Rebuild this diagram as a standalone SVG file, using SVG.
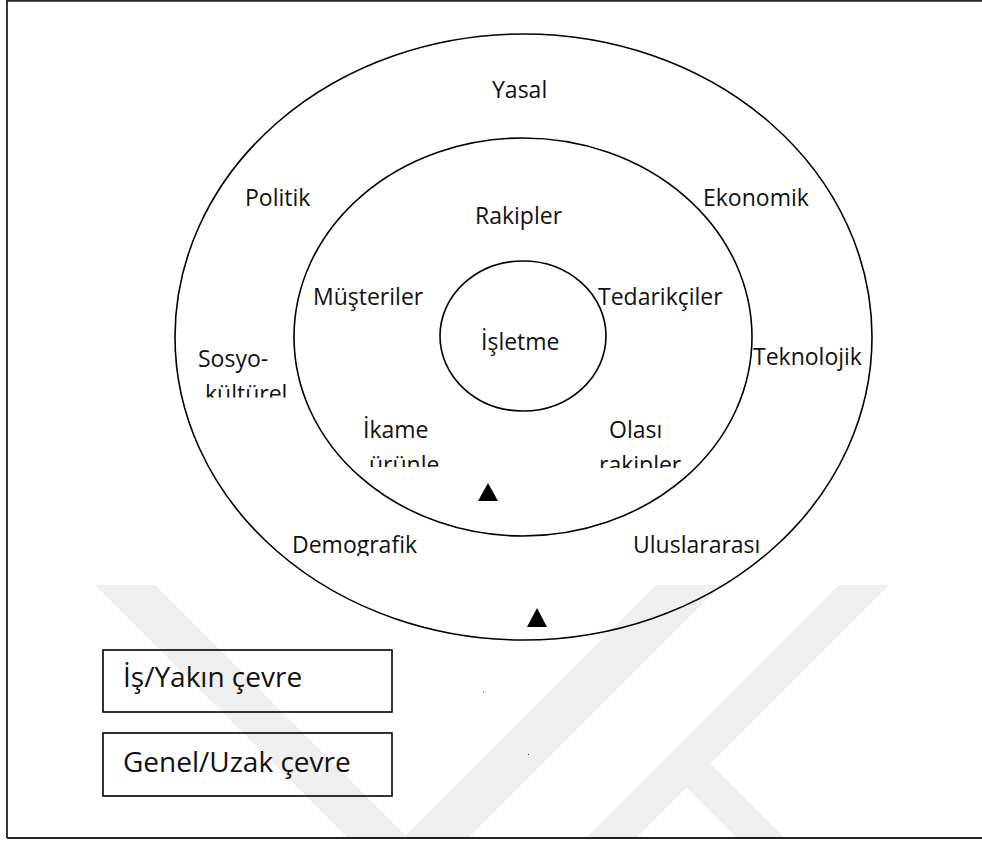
<svg xmlns="http://www.w3.org/2000/svg" width="982" height="841" viewBox="0 0 982 841">
  <style>
    .lbl { font-family: "Open Sans", "Noto Sans", "DejaVu Sans", sans-serif; font-size: 23px; fill: #111; }
    .leg { font-family: "Open Sans", "Noto Sans", "DejaVu Sans", sans-serif; font-size: 28px; fill: #111; }
    .ring { fill: none; stroke: #000; stroke-width: 1.6; }
    .box { fill: none; stroke: #000; stroke-width: 1.6; }
    .frame { fill: none; stroke: #222; stroke-width: 1.8; }
    .wm { fill: #efefef; }
    .tri { fill: #000; }
  </style>
  <defs>
    <clipPath id="clipKultur"><rect x="150" y="370" width="200" height="27.5"/></clipPath>
    <clipPath id="clipUrun"><rect x="340" y="440" width="150" height="27"/></clipPath>
    <clipPath id="clipRakip"><rect x="580" y="440" width="150" height="28"/></clipPath>
    <clipPath id="clipDemo"><rect x="260" y="520" width="200" height="36"/></clipPath>
    <clipPath id="clipFrame"><rect x="8" y="1" width="974" height="836"/></clipPath>
  </defs>
  <rect x="0" y="0" width="982" height="841" fill="#fff"/>

  <g id="watermark" clip-path="url(#clipFrame)">
    <polygon class="wm" points="95,585 155,585 411,841 351,841"/>
    <polygon class="wm" points="1180,841 1180,841"/>
    <polygon class="wm" points="400,841 465,841 721,585 656,585"/>
    <polygon class="wm" points="583,841 633,841 889,585 839,585"/>
    <polygon class="wm" points="686,739 710,763 788,841 740,841 687,788 662,763"/>
  </g>

  <path class="frame" d="M7,838 V0.9 H990 M7,838 H990"/>

  <g id="connectors">
    <polygon class="tri" points="488,483 478,501 498,501"/>
    <polygon class="tri" points="537,608 527,627 547,627"/>
  </g>

  <g id="genel-cevre">
    <ellipse class="ring" cx="523.5" cy="337" rx="348.5" ry="303"/>
    <text class="lbl" x="492" y="98">Yasal</text>
    <text class="lbl" x="245" y="206">Politik</text>
    <text class="lbl" x="703" y="206">Ekonomik</text>
    <text class="lbl" x="198" y="367">Sosyo-</text>
    <text class="lbl" x="205" y="402" clip-path="url(#clipKultur)">kültürel</text>
    <text class="lbl" x="753" y="365">Teknolojik</text>
    <text class="lbl" x="292" y="553" clip-path="url(#clipDemo)">Demografik</text>
    <text class="lbl" x="633" y="553">Uluslararası</text>
  </g>

  <g id="is-cevre">
    <ellipse class="ring" cx="523" cy="337" rx="229" ry="199"/>
    <text class="lbl" x="475" y="224">Rakipler</text>
    <text class="lbl" x="313" y="305">Müşteriler</text>
    <text class="lbl" x="598" y="305">Tedarikçiler</text>
    <text class="lbl" x="363" y="438">İkame</text>
    <text class="lbl" x="369" y="473" clip-path="url(#clipUrun)">ürünle</text>
    <text class="lbl" x="609" y="438">Olası</text>
    <text class="lbl" x="599" y="473" clip-path="url(#clipRakip)">rakipler</text>
  </g>

  <g id="isletme">
    <ellipse class="ring" cx="523" cy="336" rx="83" ry="75"/>
    <text class="lbl" x="481" y="350">İşletme</text>
  </g>

  <g id="legend-is">
    <rect class="box" x="103" y="650" width="289" height="62"/>
    <text class="leg" x="123" y="687">İş/Yakın çevre</text>
  </g>
  <g id="legend-genel">
    <rect class="box" x="103" y="733" width="289" height="63"/>
    <text class="leg" x="123" y="772">Genel/Uzak çevre</text>
  </g>

  <g id="dots">
    <rect x="483" y="691.5" width="1" height="1" fill="#333"/>
    <rect x="528" y="754" width="1" height="1" fill="#333"/>
  </g>
</svg>
